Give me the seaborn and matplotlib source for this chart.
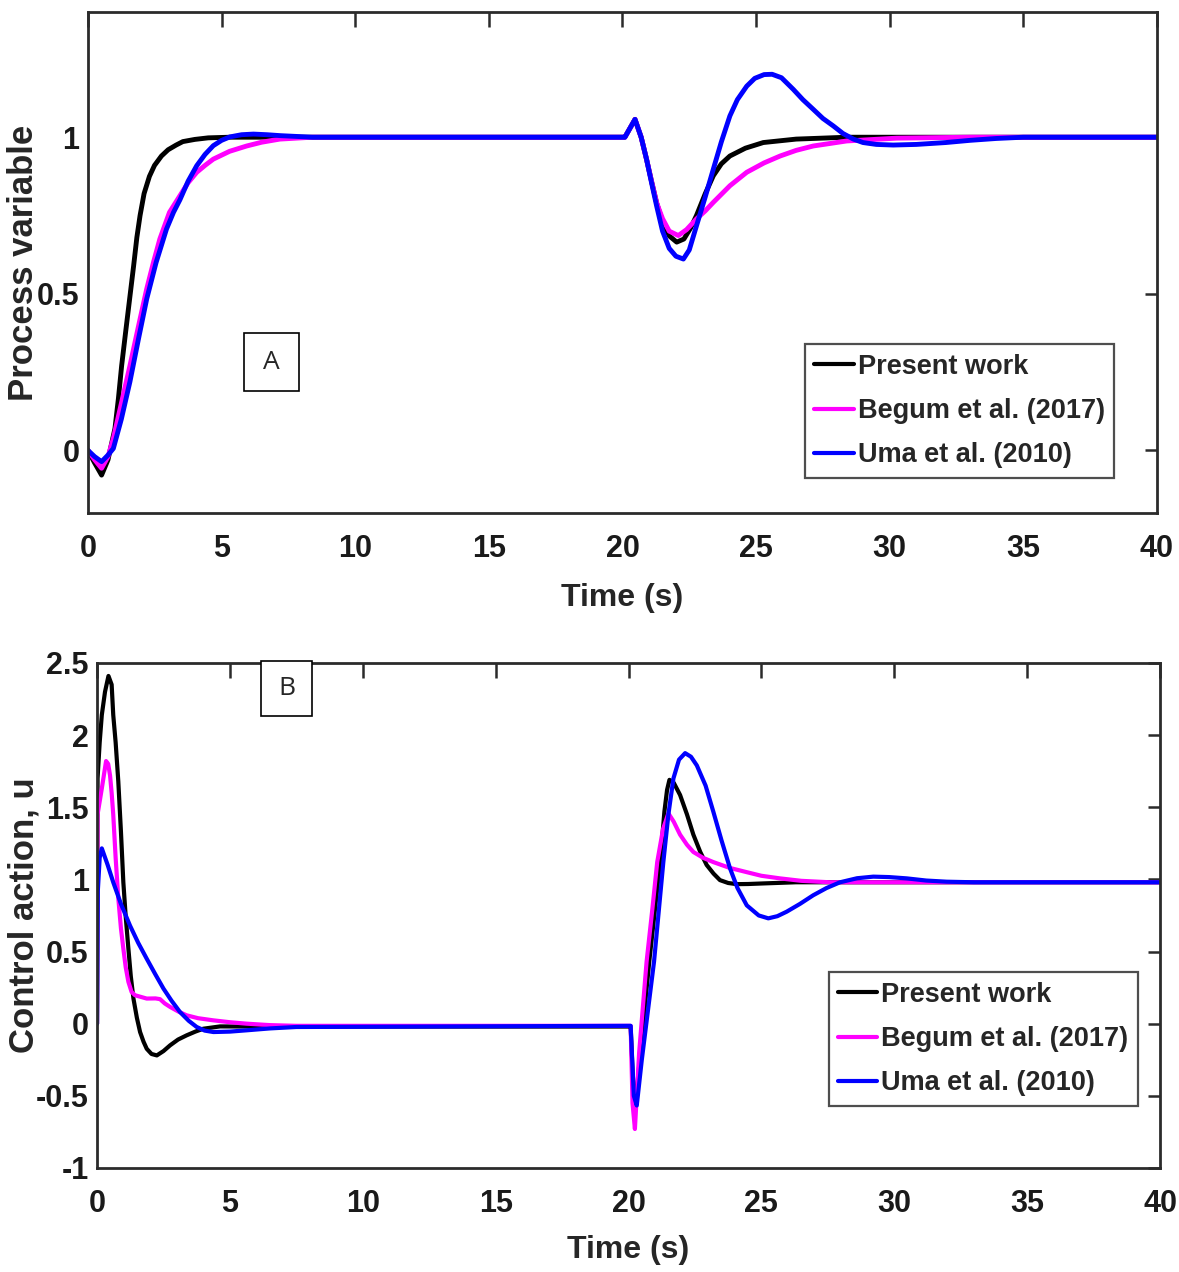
import pandas as pd
import matplotlib.pyplot as plt
import matplotlib.patches as mpatches
import seaborn as sns

# Process variable (top panel)
pv_present_t = [0, 0.25, 0.51, 0.75, 1.01, 1.14, 1.26, 1.41, 1.56, 1.71, 1.83, 1.95, 2.1, 2.3, 2.49, 2.75,
                3.0, 3.3, 3.55, 4.0, 4.5, 5.3, 10, 20, 20.09, 20.47, 20.7, 20.9, 21.1, 21.28, 21.5, 21.75,
                22.03, 22.3, 22.55, 22.77, 23.1, 23.4, 23.7, 24.02, 24.6, 25.27, 26.5, 28.4, 40]
pv_present_v = [0, -0.04, -0.079, -0.03, 0.07, 0.166, 0.27, 0.378, 0.484, 0.59, 0.68, 0.75, 0.82, 0.875,
                0.91, 0.94, 0.96, 0.975, 0.986, 0.993, 0.998, 1.0, 1.0, 1.0, 1.0, 1.057, 1.0, 0.93, 0.855,
                0.79, 0.73, 0.685, 0.665, 0.675, 0.71, 0.75, 0.82, 0.877, 0.915, 0.94, 0.965, 0.983,
                0.994, 1.0, 1.0]

pv_begum_t = [0, 0.25, 0.51, 0.75, 0.95, 1.25, 1.57, 1.9, 2.2, 2.45, 2.69, 3.05, 3.44, 3.75, 4.07, 4.38,
              4.69, 5.3, 5.94, 6.5, 7.18, 8.4, 20, 20.09, 20.47, 20.7, 20.9, 21.1, 21.28, 21.5, 21.75,
              22.09, 22.4, 22.77, 23.1, 23.4, 24.02, 24.65, 25.3, 25.9, 26.5, 27.14, 28.39, 30.26, 33, 40]
pv_begum_v = [0, -0.03, -0.057, -0.02, 0.038, 0.15, 0.27, 0.40, 0.516, 0.60, 0.675, 0.76, 0.813, 0.855,
              0.888, 0.91, 0.93, 0.955, 0.972, 0.984, 0.994, 1.0, 1.0, 1.0, 1.057, 1.0, 0.93, 0.855,
              0.79, 0.74, 0.70, 0.686, 0.705, 0.739, 0.765, 0.792, 0.845, 0.888, 0.918, 0.94, 0.958,
              0.972, 0.988, 0.997, 1.0, 1.0]

pv_uma_t = [0, 0.25, 0.51, 0.75, 0.95, 1.25, 1.57, 1.9, 2.2, 2.55, 2.94, 3.2, 3.44, 3.75, 4.07, 4.38,
            4.69, 5.0, 5.31, 5.75, 6.19, 6.7, 7.2, 8.4, 20, 20.09, 20.47, 20.7, 20.9, 21.1, 21.28, 21.5,
            21.75, 22.0, 22.28, 22.5, 22.77, 23.1, 23.4, 23.7, 24.02, 24.3, 24.65, 24.95, 25.3, 25.6,
            25.95, 26.39, 26.75, 27.14, 27.5, 27.89, 28.25, 28.64, 29.0, 29.5, 30.13, 31.0, 32.1, 33.0,
            33.99, 35, 40]
pv_uma_v = [0, -0.02, -0.036, -0.015, 0.006, 0.10, 0.219, 0.36, 0.484, 0.60, 0.707, 0.76, 0.80, 0.86,
            0.909, 0.945, 0.973, 0.99, 1.001, 1.008, 1.01, 1.008, 1.005, 1.0, 1.0, 1.0, 1.057, 1.0,
            0.93, 0.85, 0.78, 0.70, 0.645, 0.62, 0.611, 0.64, 0.717, 0.81, 0.898, 0.985, 1.068, 1.12,
            1.163, 1.188, 1.2, 1.201, 1.19, 1.153, 1.12, 1.089, 1.06, 1.036, 1.012, 0.994, 0.983,
            0.977, 0.975, 0.977, 0.983, 0.99, 0.996, 1.0, 1.0]

# Control action (bottom panel)
u_present_t = [0, 0.02, 0.1, 0.18, 0.30, 0.43, 0.55, 0.61, 0.70, 0.80, 0.9, 0.99, 1.08, 1.18, 1.27, 1.37,
               1.5, 1.62, 1.75, 1.87, 2.05, 2.25, 2.5, 2.75, 3.05, 3.37, 3.7, 4.0, 4.63, 6, 20, 20.08,
               20.18, 20.28, 20.5, 20.78, 21.0, 21.19, 21.35, 21.45, 21.54, 21.7, 21.94, 22.2, 22.44,
               22.7, 22.94, 23.2, 23.44, 23.75, 24.07, 24.5, 25.07, 26.3, 40]
u_present_v = [0, 1.7, 1.95, 2.14, 2.30, 2.41, 2.35, 2.14, 1.95, 1.68, 1.33, 0.98, 0.74, 0.52, 0.33, 0.174,
               0.04, -0.058, -0.125, -0.174, -0.21, -0.22, -0.19, -0.15, -0.11, -0.081, -0.055, -0.035,
               -0.019, -0.02, -0.02, -0.02, -0.45, -0.52, -0.1, 0.43, 0.8, 1.12, 1.47, 1.62, 1.69, 1.67,
               1.585, 1.45, 1.31, 1.19, 1.10, 1.04, 0.995, 0.975, 0.967, 0.968, 0.972, 0.98, 0.98]

u_begum_t = [0, 0.02, 0.18, 0.34, 0.42, 0.49, 0.55, 0.61, 0.70, 0.80, 0.9, 0.99, 1.08, 1.18, 1.3, 1.43,
             1.87, 2.2, 2.37, 2.55, 2.75, 3.05, 3.37, 3.8, 4.38, 5.0, 5.63, 6.5, 7.5, 20, 20.08, 20.15,
             20.24, 20.4, 20.68, 20.9, 21.08, 21.3, 21.5, 21.7, 21.94, 22.2, 22.44, 22.8, 23.19, 23.8,
             24.45, 25.0, 25.7, 26.5, 27.58, 40]
u_begum_v = [0, 1.45, 1.63, 1.82, 1.80, 1.72, 1.6, 1.45, 1.15, 0.87, 0.66, 0.52, 0.39, 0.29, 0.22, 0.197,
             0.174, 0.175, 0.17, 0.14, 0.116, 0.085, 0.058, 0.038, 0.023, 0.01, 0.0, -0.01, -0.015,
             -0.015, -0.015, -0.55, -0.73, -0.2, 0.43, 0.8, 1.12, 1.35, 1.458, 1.40, 1.31, 1.24, 1.19,
             1.15, 1.12, 1.08, 1.05, 1.025, 1.007, 0.99, 0.98, 0.98]

u_uma_t = [0, 0.03, 0.1, 0.18, 0.4, 0.61, 0.9, 1.24, 1.55, 1.87, 2.2, 2.5, 2.8, 3.12, 3.45, 3.75, 4.05,
           4.38, 5.0, 5.63, 6.5, 7.5, 20, 20.08, 20.2, 20.31, 20.5, 20.96, 21.31, 21.5, 21.69, 21.9,
           22.13, 22.35, 22.57, 22.9, 23.19, 23.5, 23.82, 24.1, 24.45, 24.9, 25.26, 25.6, 25.95, 26.45,
           26.95, 27.45, 27.96, 28.6, 29.21, 29.8, 30.47, 31.2, 31.97, 33, 40]
u_uma_v = [0, 0.92, 1.15, 1.215, 1.1, 0.98, 0.83, 0.68, 0.56, 0.45, 0.34, 0.243, 0.16, 0.081, 0.02,
           -0.023, -0.048, -0.058, -0.055, -0.046, -0.033, -0.023, -0.015, -0.015, -0.5, -0.567, -0.25,
           0.43, 1.12, 1.45, 1.70, 1.83, 1.875, 1.85, 1.79, 1.65, 1.47, 1.27, 1.076, 0.94, 0.82, 0.75,
           0.73, 0.745, 0.776, 0.83, 0.89, 0.94, 0.98, 1.008, 1.019, 1.016, 1.007, 0.992, 0.984, 0.98,
           0.98]

labels = ['Present work', 'Begum et al. (2017)', 'Uma et al. (2010)']
palette = {'Present work': '#000000', 'Begum et al. (2017)': '#ff00ff', 'Uma et al. (2010)': '#0000ff'}
x_ticks = [0, 5, 10, 15, 20, 25, 30, 35, 40]
pv_ticks = [0, 0.5, 1]
pv_ticklabels = ['0', '0.5', '1']
u_ticks = [-1, -0.5, 0, 0.5, 1, 1.5, 2, 2.5]
u_ticklabels = ['-1', '-0.5', '0', '0.5', '1', '1.5', '2', '2.5']


def make_df(series):
    frames = []
    for name, t, v in series:
        frames.append(pd.DataFrame({'Time': t, 'Value': v, 'Controller': name}))
    return pd.concat(frames, ignore_index=True)


pv_df = make_df([(labels[0], pv_present_t, pv_present_v),
                 (labels[1], pv_begum_t, pv_begum_v),
                 (labels[2], pv_uma_t, pv_uma_v)])
u_df = make_df([(labels[0], u_present_t, u_present_v),
                (labels[1], u_begum_t, u_begum_v),
                (labels[2], u_uma_t, u_uma_v)])

sns.set_style('white')
fonts = ['Liberation Sans', 'DejaVu Sans']
plt.rcParams['font.family'] = fonts
plt.rcParams['font.weight'] = 'bold'

fig = plt.figure(figsize=(11.79, 12.72), dpi=100)
ax1 = fig.add_axes([0.0746, 0.5967, 0.9067, 0.3939])
ax2 = fig.add_axes([0.0823, 0.0818, 0.9016, 0.3970])


def style_axes(ax, df, lw, ylim, yticks, yticklabels, ylabel, ylab_x, xlab_y, leg_anchor):
    sns.lineplot(data=df, x='Time', y='Value', hue='Controller', hue_order=labels,
                 palette=palette, estimator=None, sort=False, linewidth=lw, ax=ax)
    ax.set_xlim(0, 40)
    ax.set_ylim(*ylim)
    ax.set_xticks(x_ticks)
    ax.set_xticklabels([str(x) for x in x_ticks])
    ax.set_yticks(yticks)
    ax.set_yticklabels(yticklabels)
    for s in ax.spines.values():
        s.set_visible(True)
        s.set_color('#2b2b2b')
        s.set_linewidth(2)
    ax.tick_params(axis='both', direction='in', top=True, right=True, color='#2b2b2b',
                   width=1.8, labelsize=22, colors='#1a1a1a')
    ax.tick_params(axis='x', length=11, pad=15)
    ax.tick_params(axis='y', length=9, pad=6)
    ax.set_xlabel('Time (s)', fontsize=23, fontweight='bold', va='center')
    ax.xaxis.set_label_coords(0.5, xlab_y)
    ax.set_ylabel(ylabel, fontsize=25, fontweight='bold', va='center')
    ax.yaxis.set_label_coords(ylab_x, 0.5)
    leg = ax.legend(loc='lower right', bbox_to_anchor=leg_anchor, borderaxespad=0,
                    fancybox=False, frameon=True, edgecolor='#222222', fontsize=19.5,
                    handlelength=1.45, handletextpad=0.15, borderpad=0.35, labelspacing=0.68)
    leg.get_frame().set_linewidth(1.6)
    for line in leg.get_lines():
        line.set_linewidth(3)
    ax.grid(False)


style_axes(ax1, pv_df, 3.5, (-0.2, 1.4), pv_ticks, pv_ticklabels, 'Process variable',
           -0.06, -0.1697, (0.96, 0.07))
style_axes(ax2, u_df, 3.0, (-1, 2.5), u_ticks, u_ticklabels, 'Control action, u',
           -0.069, -0.162, (0.9793, 0.1228))

# panel tags A and B
for (x0, y0, w, h, tag) in [(0.2070, 0.6926, 0.0466, 0.0456, 'A'),
                            (0.2214, 0.4371, 0.0433, 0.0432, 'B')]:
    fig.add_artist(mpatches.Rectangle((x0, y0), w, h, transform=fig.transFigure,
                                      facecolor='white', edgecolor='black', linewidth=1.2, zorder=10))
    fig.text(x0 + w / 2, y0 + h / 2, tag, ha='center', va='center', fontsize=19,
             fontweight='normal', family=['Open Sans', 'DejaVu Sans'], zorder=11)

fig.savefig('out.png', dpi=100)
